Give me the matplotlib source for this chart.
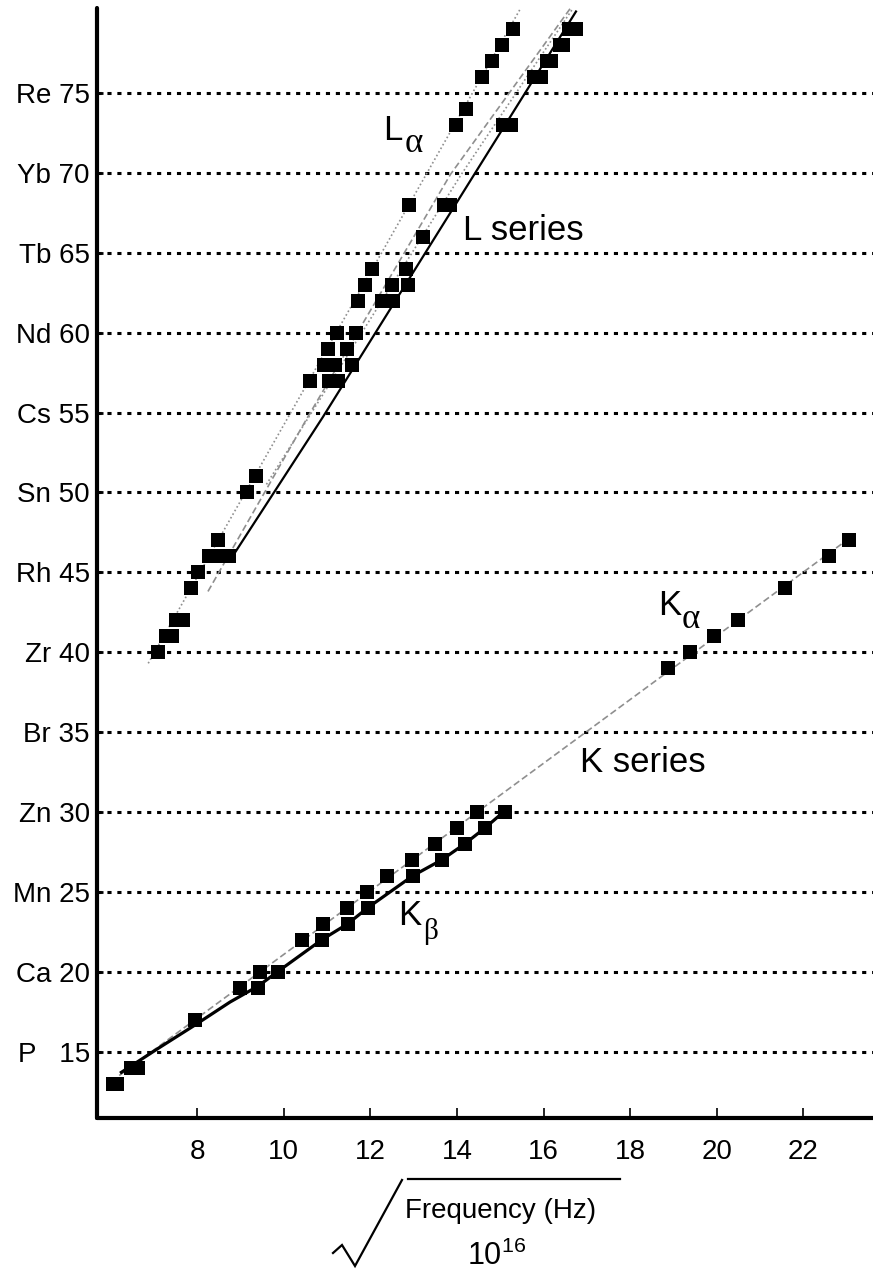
import numpy as np
import matplotlib.pyplot as plt
from matplotlib.lines import Line2D

plt.rcParams['font.family'] = ['Liberation Sans', 'DejaVu Sans']

# Moseley plot: atomic number Z against sqrt(frequency / 1e16 Hz)
# K series
ka_z = [13, 14, 17, 19, 20, 22, 23, 24, 25, 26, 27, 28, 29, 30, 39, 40, 41, 42, 44, 46, 47]
ka_x = [6.05, 6.48, 7.95, 8.99, 9.45, 10.43, 10.90, 11.46, 11.92, 12.38, 12.96, 13.49,
        14.00, 14.46, 18.87, 19.38, 19.93, 20.49, 21.58, 22.60, 23.06]
kb_z = [13, 14, 19, 20, 22, 23, 24, 26, 27, 28, 29, 30]
kb_x = [6.14, 6.64, 9.40, 9.86, 10.88, 11.48, 11.94, 12.98, 13.65, 14.18, 14.65, 15.10]

# L series
la_z = [40, 41, 42, 44, 45, 46, 47, 50, 51, 57, 58, 59, 60, 62, 63, 64, 68, 73, 74, 76, 77, 78, 79]
la_x = [7.10, 7.29, 7.52, 7.85, 8.02, 8.28, 8.49, 9.15, 9.35, 10.60, 10.92, 11.02, 11.22,
        11.72, 11.87, 12.03, 12.90, 13.99, 14.22, 14.57, 14.80, 15.03, 15.30]
lb1_z = [41, 42, 46, 57, 58, 59, 60, 62, 63, 64, 66, 68, 73, 76, 77, 78, 79]
lb1_x = [7.43, 7.68, 8.51, 11.05, 11.19, 11.46, 11.68, 12.26, 12.49, 12.82, 13.21, 13.71,
         15.07, 15.79, 16.07, 16.37, 16.60]
lb2_z = [46, 57, 58, 62, 63, 68, 73, 76, 77, 78, 79]
lb2_x = [8.74, 11.26, 11.57, 12.53, 12.88, 13.85, 15.26, 15.95, 16.18, 16.46, 16.74]

# fitted curves
ka_line_x = [6.2, 23.2]
ka_line_z = [13.5, 47.4]
kb_line_x = [6.25, 7.1, 7.95, 8.76, 9.41, 9.86, 10.88, 11.48, 11.94, 12.98, 13.65, 14.18, 14.65, 15.12]
kb_line_z = [13.7, 15.2, 16.66, 18.1, 19.1, 20, 22, 23, 24, 26, 27, 28, 29, 30.1]
la_line_x = [6.87, 15.45]
la_line_z = [39.3, 80.2]
lb_dash_x = [8.25, 10.55, 13.85, 16.62]
lb_dash_z = [43.8, 54.7, 69.9, 80.3]
lb_dot_x = [9.6, 14.1, 16.68]
lb_dot_z = [50.5, 69.9, 80.3]
lb_solid_x = [8.89, 10.9, 14.4, 16.75]
lb_solid_z = [46.3, 54.7, 69.9, 80.1]

yticks = [15, 20, 25, 30, 35, 40, 45, 50, 55, 60, 65, 70, 75]
ylabels = ['P   15', 'Ca 20', 'Mn 25', 'Zn 30', 'Br 35', 'Zr 40', 'Rh 45',
           'Sn 50', 'Cs 55', 'Nd 60', 'Tb 65', 'Yb 70', 'Re 75']
xticks = [8, 10, 12, 14, 16, 18, 20, 22]

W, H = 873, 1273
fig = plt.figure(figsize=(W / 100, H / 100), dpi=100)
ax = fig.add_axes([96.7 / W, (H - 1117.7) / H, 1 - 96.7 / W, (1117.7 - 8) / H])

grey = '#8f8f8f'
ax.plot(ka_line_x, ka_line_z, color=grey, lw=1.2, ls=(0, (4, 2)))
ax.plot(kb_line_x, kb_line_z, color='black', lw=2.3)
ax.plot(la_line_x, la_line_z, color=grey, lw=1.2, ls=(0, (1, 1.5)))
ax.plot(lb_dash_x, lb_dash_z, color=grey, lw=1.2, ls=(0, (4, 2)))
ax.plot(lb_dot_x, lb_dot_z, color=grey, lw=1.2, ls=(0, (1, 1.5)))
ax.plot(lb_solid_x, lb_solid_z, color='black', lw=1.6)

for xs, zs in [(ka_x, ka_z), (kb_x, kb_z), (la_x, la_z), (lb1_x, lb1_z), (lb2_x, lb2_z)]:
    ax.plot(xs, zs, 's', color='black', ms=9.5, mew=0, zorder=5)

ax.set_xlim(5.68, 23.61)
ax.set_ylim(10.86, 80.32)
ax.set_xticks(xticks)
ax.set_xticklabels([str(v) for v in xticks])
ax.set_yticks(yticks)
ax.set_yticklabels(ylabels)
ax.tick_params(axis='x', direction='in', length=7, width=1.2, pad=15, labelsize=20)
ax.tick_params(axis='y', direction='in', length=4, width=2, pad=5, labelsize=20)
ax.grid(axis='y', color='black', lw=2.2, ls=(0, (1.35, 1.9)))

for s in ['top', 'right']:
    ax.spines[s].set_visible(False)
for s in ['left', 'bottom']:
    ax.spines[s].set_linewidth(3)
    ax.spines[s].set_capstyle('round')

# series labels
ax.text(14.14, 65.8, 'L series', fontsize=25, ha='left', va='baseline')
ax.text(16.84, 32.5, 'K series', fontsize=25, ha='left', va='baseline')
serif = ['Liberation Serif', 'DejaVu Serif']
ax.text(12.29, 72.06, 'L', fontsize=25, ha='left', va='baseline')
ax.text(12.80, 71.31, 'α', fontsize=25, ha='left', va='baseline', family=serif)
ax.text(18.64, 42.32, 'K', fontsize=25, ha='left', va='baseline')
ax.text(19.19, 41.51, 'α', fontsize=25, ha='left', va='baseline', family=serif)
ax.text(12.64, 22.92, 'K', fontsize=25, ha='left', va='baseline')
ax.text(13.21, 22.04, 'β', fontsize=21, ha='left', va='baseline', family=serif)

# x label drawn as a square root of a fraction
def fpos(px, py):
    return px / W, 1 - py / H

rx, ry = zip(*[fpos(333, 1253), fpos(342, 1245), fpos(355, 1266), fpos(402, 1180)])
fig.add_artist(Line2D(rx, ry, transform=fig.transFigure, color='black', lw=1.6,
                      solid_joinstyle='miter'))
ox, oy = zip(*[fpos(408, 1179), fpos(620, 1179)])
fig.add_artist(Line2D(ox, oy, transform=fig.transFigure, color='black', lw=1.6))
fx, fy = fpos(501, 1218)
fig.text(fx, fy, 'Frequency (Hz)', fontsize=20, ha='center', va='baseline')
tx, ty = fpos(497, 1265)
fig.text(tx, ty, r'$\mathregular{10^{16}}$', fontsize=22, ha='center', va='baseline')

fig.savefig('out.png', dpi=100)
